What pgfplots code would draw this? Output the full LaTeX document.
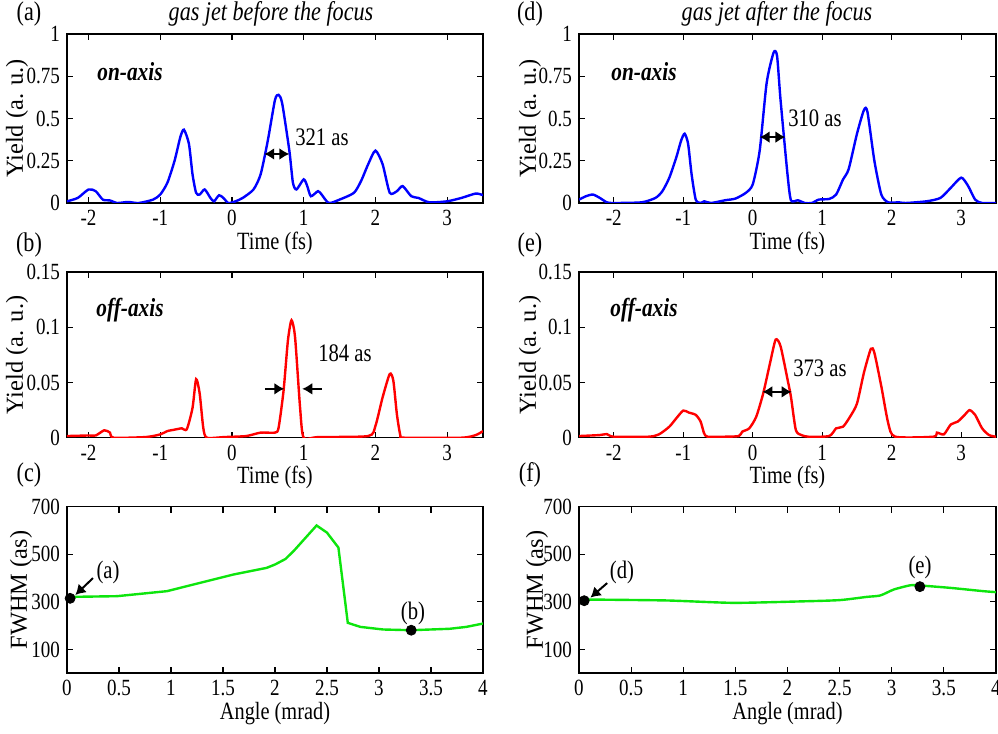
\documentclass[border=0pt]{standalone}
\usepackage{pgfplots}
\pgfplotsset{compat=1.18}
\usepackage{fontspec}
\setmainfont{Liberation Serif}[FakeStretch=0.82]
\newfontfamily\ylabfont{Liberation Serif}
\usetikzlibrary{arrows.meta}
\definecolor{mblue}{rgb}{0,0,1}
\definecolor{mred}{rgb}{1,0,0}
\definecolor{mgreen}{rgb}{0.05,0.9,0.05}
\pgfplotsset{
  mystyle/.style={
    scale only axis, anchor=south west,
    axis line style={line width=0.8pt},
    every tick/.style={black, line width=0.6pt},
    major tick length=3pt,
    tick align=inside,
    scaled ticks=false,
    /pgf/number format/fixed,
    /pgf/number format/precision=2,
    /pgf/number format/assume math mode=true,
    ticklabel style={font=\fontsize{11.6}{13}\selectfont},
    every axis x label/.style={at={(axis description cs:0.5,0)}, anchor=center, yshift=-20pt, font=\fontsize{12.4}{14}\selectfont},
    every axis y label/.style={at={(axis description cs:-0.12,0.5)}, rotate=90, anchor=center, font=\ylabfont\fontsize{12.2}{13}\selectfont},
  },
  timeplot/.style={mystyle, xtick={-2,-1,0,1,2,3}, xticklabels={-2,-1,0,1,2,3}, xlabel={Time (fs)}, ylabel={Yield (a. u.)}},
  angplot/.style={mystyle, xmin=0, xmax=4, ymin=0, ymax=700, xtick={0,0.5,1,1.5,2,2.5,3,3.5,4}, xticklabels={0,0.5,1,1.5,2,2.5,3,3.5,4}, ytick={100,300,500,700}, yticklabels={100,300,500,700}, xlabel={Angle (mrad)}, ylabel={FWHM (as)}},
}
\tikzset{annot/.style={font=\fontsize{12.6}{14}\selectfont},
  ah/.style={line width=1pt},
}
\begin{document}
\begin{tikzpicture}
\path[use as bounding box] (0,0) rectangle (499pt,367pt);

% (a)
\begin{axis}[timeplot, at={(33.5pt,265.5pt)}, width=208pt, height=84.5pt,
  xmin=-2.3, xmax=3.5, ymin=0, ymax=1, ytick={0,0.25,0.5,0.75,1}, yticklabels={0,0.25,0.5,0.75,1}]
\addplot[mblue, line width=1.2pt, smooth, tension=0.4] coordinates {
(-2.3,0.01)(-2.15,0.03)(-2.0,0.08)(-1.9,0.07)(-1.8,0.02)(-1.7,0.015)(-1.6,0.0)(-1.45,0.006)(-1.3,0.0)
(-1.1,0.02)(-1.0,0.05)(-0.9,0.12)(-0.8,0.25)(-0.72,0.39)(-0.67,0.434)(-0.6,0.35)(-0.55,0.17)(-0.5,0.06)
(-0.45,0.05)(-0.38,0.08)(-0.3,0.03)(-0.25,0.01)(-0.18,0.046)(-0.12,0.03)(-0.05,0.0)(0.05,0.01)(0.15,0.03)
(0.3,0.08)(0.4,0.17)(0.5,0.37)(0.6,0.61)(0.65,0.64)(0.7,0.59)(0.8,0.31)(0.85,0.12)(0.9,0.08)(1.0,0.14)
(1.05,0.10)(1.1,0.04)(1.2,0.07)(1.25,0.05)(1.35,0.0)(1.5,0.02)(1.7,0.06)(1.8,0.13)(1.9,0.23)(2.0,0.31)
(2.1,0.23)(2.2,0.06)(2.3,0.07)(2.38,0.1)(2.5,0.04)(2.6,0.03)(2.75,0.004)(3.0,0.01)(3.2,0.03)(3.4,0.056)(3.5,0.046)};
\draw[{Latex[length=5pt,width=6pt]}-{Latex[length=5pt,width=6pt]}, ah] (axis cs:0.45,0.29) -- (axis cs:0.80,0.29);
\end{axis}

% (d)
\begin{axis}[timeplot, at={(289.5pt,265.5pt)}, width=208.5pt, height=84.5pt,
  every axis y label/.append style={at={(axis description cs:-0.1175,0.5)}},
  xmin=-2.5, xmax=3.5, ymin=0, ymax=1, ytick={0,0.25,0.5,0.75,1}, yticklabels={0,0.25,0.5,0.75,1}]
\addplot[mblue, line width=1.2pt, smooth, tension=0.4] coordinates {
(-2.5,0.02)(-2.4,0.04)(-2.3,0.05)(-2.2,0.03)(-2.1,0.004)(-2.0,0.0)(-1.6,0.004)(-1.4,0.03)(-1.3,0.07)
(-1.2,0.15)(-1.1,0.27)(-1.03,0.37)(-0.98,0.41)(-0.93,0.35)(-0.88,0.17)(-0.82,0.02)(-0.75,0.0)(-0.7,0.01)
(-0.6,0.0)(-0.4,0.016)(-0.25,0.026)(-0.1,0.06)(0.0,0.11)(0.1,0.31)(0.2,0.71)(0.3,0.89)(0.35,0.87)(0.4,0.61)
(0.5,0.17)(0.55,0.016)(0.65,0.016)(0.75,0.0)(0.85,0.0)(0.95,0.02)(1.1,0.024)(1.2,0.05)(1.3,0.14)(1.38,0.2)
(1.5,0.41)(1.6,0.55)(1.65,0.54)(1.75,0.25)(1.85,0.05)(1.95,0.004)(2.1,0.004)(2.2,0.0)(2.5,0.01)(2.7,0.03)
(2.85,0.09)(3.0,0.15)(3.1,0.1)(3.2,0.02)(3.3,0.0)(3.5,0.0)};
\draw[{Latex[length=5pt,width=6pt]}-{Latex[length=5pt,width=6pt]}, ah] (axis cs:0.1,0.39) -- (axis cs:0.47,0.39);
\end{axis}

% (b)
\begin{axis}[timeplot, at={(33.5pt,148.15pt)}, width=208pt, height=82.7pt,
  xmin=-2.3, xmax=3.5, ymin=0, ymax=0.15, ytick={0,0.05,0.1,0.15}, yticklabels={0,0.05,0.1,0.15}]
\addplot[mred, line width=1.2pt, smooth, tension=0.4] coordinates {
(-2.3,0.0015)(-2.0,0.002)(-1.9,0.002)(-1.78,0.0067)(-1.7,0.0046)(-1.65,0.0)(-1.2,0.0006)(-1.0,0.003)
(-0.9,0.006)(-0.8,0.0073)(-0.7,0.0085)(-0.63,0.0076)(-0.55,0.027)(-0.5,0.053)(-0.45,0.04)(-0.4,0.009)
(-0.35,0.0)(-0.1,0.0006)(0.2,0.0015)(0.4,0.0046)(0.6,0.0046)(0.65,0.009)(0.72,0.043)(0.78,0.088)
(0.83,0.1065)(0.88,0.091)(0.95,0.027)(1.0,0.0)(1.2,0.0006)(1.9,0.0015)(2.0,0.0106)(2.1,0.0365)
(2.2,0.0578)(2.25,0.0517)(2.3,0.021)(2.35,0.0015)(2.4,0.0)(3.2,0.0)(3.4,0.0024)(3.5,0.006)};
\draw[-{Latex[length=5pt,width=6pt]}, ah] (axis cs:0.46,0.0443) -- (axis cs:0.73,0.0443);
\draw[-{Latex[length=5pt,width=6pt]}, ah] (axis cs:1.25,0.0443) -- (axis cs:0.98,0.0443);
\end{axis}

% (e)
\begin{axis}[timeplot, at={(289.5pt,148.15pt)}, width=208.5pt, height=82.7pt,
  every axis y label/.append style={at={(axis description cs:-0.1175,0.5)}},
  xmin=-2.5, xmax=3.5, ymin=0, ymax=0.15, ytick={0,0.05,0.1,0.15}, yticklabels={0,0.05,0.1,0.15}]
\addplot[mred, line width=1.2pt, smooth, tension=0.4] coordinates {
(-2.5,0.0015)(-2.2,0.0024)(-2.1,0.0033)(-2.0,0.0009)(-1.5,0.0009)(-1.35,0.003)(-1.2,0.01)(-1.1,0.0176)
(-1.0,0.0246)(-0.92,0.0228)(-0.82,0.0207)(-0.75,0.0146)(-0.7,0.004)(-0.65,0.0009)(-0.4,0.0009)(-0.2,0.0015)
(-0.15,0.0055)(-0.05,0.0085)(0.05,0.019)(0.15,0.04)(0.25,0.068)(0.33,0.089)(0.4,0.083)(0.5,0.053)
(0.55,0.037)(0.62,0.007)(0.7,0.0024)(0.8,0.0009)(1.1,0.0015)(1.2,0.0085)(1.3,0.01)(1.4,0.019)(1.5,0.031)
(1.6,0.059)(1.7,0.0806)(1.75,0.077)(1.85,0.0466)(1.95,0.013)(2.05,0.0009)(2.6,0.0009)(2.65,0.0046)
(2.75,0.003)(2.85,0.012)(2.95,0.0146)(3.05,0.0207)(3.12,0.025)(3.2,0.0207)(3.3,0.0085)(3.4,0.0024)(3.5,0.0009)};
\draw[{Latex[length=5pt,width=6pt]}-{Latex[length=5pt,width=6pt]}, ah] (axis cs:0.14,0.0416) -- (axis cs:0.56,0.0416);
\end{axis}

% (c)
\begin{axis}[angplot, at={(33.5pt,30.35pt)}, width=208pt, height=83.3pt,
  every axis y label/.append style={at={(axis description cs:-0.1106,0.5)}}]
\addplot[mgreen, line width=1.2pt] coordinates {
(0.03,321)(0.48,324)(0.96,345)(1.28,380)(1.6,415)(1.92,443)(2.0,457)(2.1,480)(2.18,514)(2.4,621)
(2.5,591)(2.61,528)(2.7,212)(2.82,195)(3.04,184)(3.31,181)(3.68,187)(3.84,195)(4.0,209)};
\addplot[only marks, mark=*, mark size=2.5pt, black] coordinates {(0.03,315)(3.31,181)};
\draw[-{Latex[length=5pt,width=6pt]}, ah] (axis cs:0.25,400) -- (axis cs:0.08,329);
\end{axis}

% (f)
\begin{axis}[angplot, at={(289.5pt,30.35pt)}, width=208.5pt, height=83.3pt,
  every axis y label/.append style={at={(axis description cs:-0.1007,0.5)}}]
\addplot[mgreen, line width=1.2pt, smooth, tension=0.4] coordinates {
(0.06,310)(0.84,306)(1.48,296)(2.12,302)(2.5,307.5)(2.76,321)(2.89,327)(3.02,352)(3.18,370)(3.27,369)
(3.56,359)(3.88,345)(4.0,341)};
\addplot[only marks, mark=*, mark size=2.5pt, black] coordinates {(0.05,305)(3.27,364)};
\draw[-{Latex[length=5pt,width=6pt]}, ah] (axis cs:0.27,379) -- (axis cs:0.11,318);
\end{axis}

% texts
\node[font=\fontsize{13.5}{15}\selectfont] at (14.5pt,360pt) {(a)};
\node[font=\fontsize{13.5}{15}\selectfont\itshape] at (135.5pt,360pt) {gas jet before the focus};
\node[font=\fontsize{13.5}{15}\selectfont] at (265pt,360pt) {(d)};
\node[font=\fontsize{13.5}{15}\selectfont\itshape] at (388.5pt,360pt) {gas jet after the focus};
\node[font=\fontsize{13.5}{15}\selectfont] at (14.5pt,244.5pt) {(b)};
\node[font=\fontsize{13.5}{15}\selectfont] at (265pt,244.5pt) {(e)};
\node[font=\fontsize{13.5}{15}\selectfont] at (14.5pt,129.5pt) {(c)};
\node[font=\fontsize{13.5}{15}\selectfont] at (265pt,129.5pt) {(f)};
\node[font=\fontsize{13}{14}\selectfont\bfseries\itshape] at (65pt,331pt) {on-axis};
\node[font=\fontsize{13}{14}\selectfont\bfseries\itshape] at (322pt,331pt) {on-axis};
\node[font=\fontsize{13}{14}\selectfont\bfseries\itshape] at (65pt,212pt) {off-axis};
\node[font=\fontsize{13}{14}\selectfont\bfseries\itshape] at (322pt,212pt) {off-axis};
\node[annot] at (161pt,298.5pt) {321 as};
\node[annot] at (407.5pt,308pt) {310 as};
\node[annot] at (172.5pt,190.5pt) {184 as};
\node[annot] at (410pt,183pt) {373 as};
\node[annot] at (54pt,81pt) {(a)};
\node[annot] at (206.5pt,60.5pt) {(b)};
\node[annot] at (311pt,81pt) {(d)};
\node[annot] at (460pt,83.5pt) {(e)};
\end{tikzpicture}
\end{document}
